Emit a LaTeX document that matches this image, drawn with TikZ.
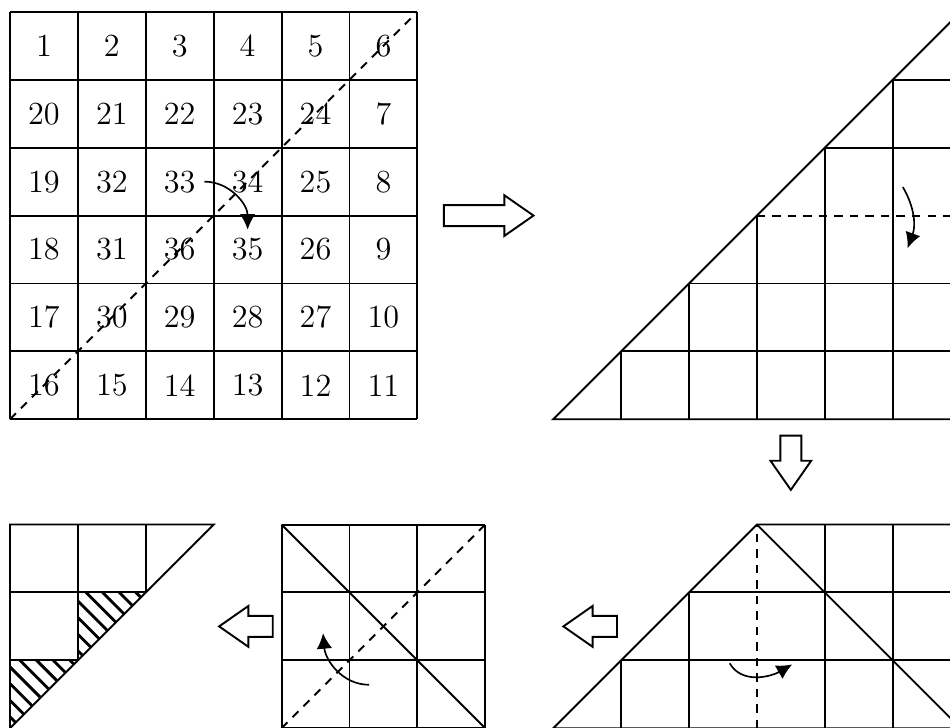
\documentclass[tikz,border=0pt]{standalone}
\usetikzlibrary{arrows.meta}
\begin{document}
\begin{tikzpicture}[line width=0.8pt,
  num/.style={font=\fontsize{13.5}{16}\selectfont},
  fold/.style={dash pattern=on 3.5pt off 3pt},
  turn/.style={-{Latex[length=6.5pt,width=6.5pt]},line width=0.7pt},
  hatch/.style={line width=1.2pt},
  pics/blockarrow/.style={code={
    \draw (0,-0.155) -- (#1,-0.155) -- (#1,-0.3) -- (#1+0.43,0) -- (#1,0.3) -- (#1,0.155) -- (0,0.155) -- cycle;}}]
  \useasboundingbox (-0.147,-4.532) rectangle (13.844,6.175);
  \clip (-0.147,-4.532) rectangle (13.844,6.175);
  % numbered square
  \draw (0,0) grid (6,6);
  \foreach \row [count=\r] in {{1,2,3,4,5,6},{20,21,22,23,24,7},{19,32,33,34,25,8},
                              {18,31,36,35,26,9},{17,30,29,28,27,10},{16,15,14,13,12,11}}
    \foreach \n [count=\c] in \row
      \node[num] (n\n) at (\c-0.5,6.5-\r) {\n};
  \draw[fold] (0,0) -- (6,6);
  \draw[turn] (n33.east) to[out=0,in=90] (n35.north);
  \pic at (6.39,3.0) {blockarrow=0.89};
  % first fold
  \draw (8,0) -- (14,6) -- (14,0) -- cycle;
  \foreach \i in {1,...,5} \draw (8+\i,0) -- (8+\i,\i);
  \foreach \i in {1,2,4,5} \draw (8+\i,\i) -- (14,\i);
  \draw[fold] (11,3) -- (14,3);
  \draw[turn] (13.15,3.42) to[out=-60,in=70] (13.22,2.52);
  \pic[rotate=-90] at (11.5,-0.24) {blockarrow=0.37};
  % second fold
  \begin{scope}[shift={(8,-4.55)}]
    \draw (0,0) -- (3,3) -- (6,3) -- (6,0) -- cycle;
    \draw (3,3) -- (6,0);
    \draw (1,1) -- (6,1) (2,2) -- (6,2);
    \draw (1,0) -- (1,1) (2,0) -- (2,2) (4,0) -- (4,3) (5,0) -- (5,3);
    \draw[fold] (3,0) -- (3,3);
    \draw[turn] (2.6,0.956) to[out=-60,in=-150] (3.52,0.94);
  \end{scope}
  \pic[rotate=180] at (8.94,-3.05) {blockarrow=0.36};
  % third fold
  \begin{scope}[shift={(4,-4.55)}]
    \draw (0,0) grid (3,3);
    \draw (0,3) -- (3,0);
    \draw[fold] (0,0) -- (3,3);
    \draw[turn] (1.29,0.64) to[out=180,in=-85] (0.61,1.40);
  \end{scope}
  \pic[rotate=180] at (3.87,-3.05) {blockarrow=0.36};
  % result
  \begin{scope}[shift={(0,-4.55)}]
    \begin{scope}
      \clip (1,2) -- (2,2) -- (1,1) -- cycle;
      \foreach \k in {-5,...,4} \draw[hatch] (3.12+0.245*\k-2.5,2.5) -- (3.12+0.245*\k+0.5,-0.5);
    \end{scope}
    \begin{scope}
      \clip (0,1) -- (1,1) -- (0,0) -- cycle;
      \foreach \k in {-5,...,4} \draw[hatch] (1.147+0.245*\k-2,2) -- (1.147+0.245*\k+1,-1);
    \end{scope}
    \draw (0,3) -- (3,3) -- (0,0) -- cycle;
    \draw (1,1) -- (1,3) (2,2) -- (2,3) (0,2) -- (2,2) (0,1) -- (1,1);
  \end{scope}
\end{tikzpicture}
\end{document}
